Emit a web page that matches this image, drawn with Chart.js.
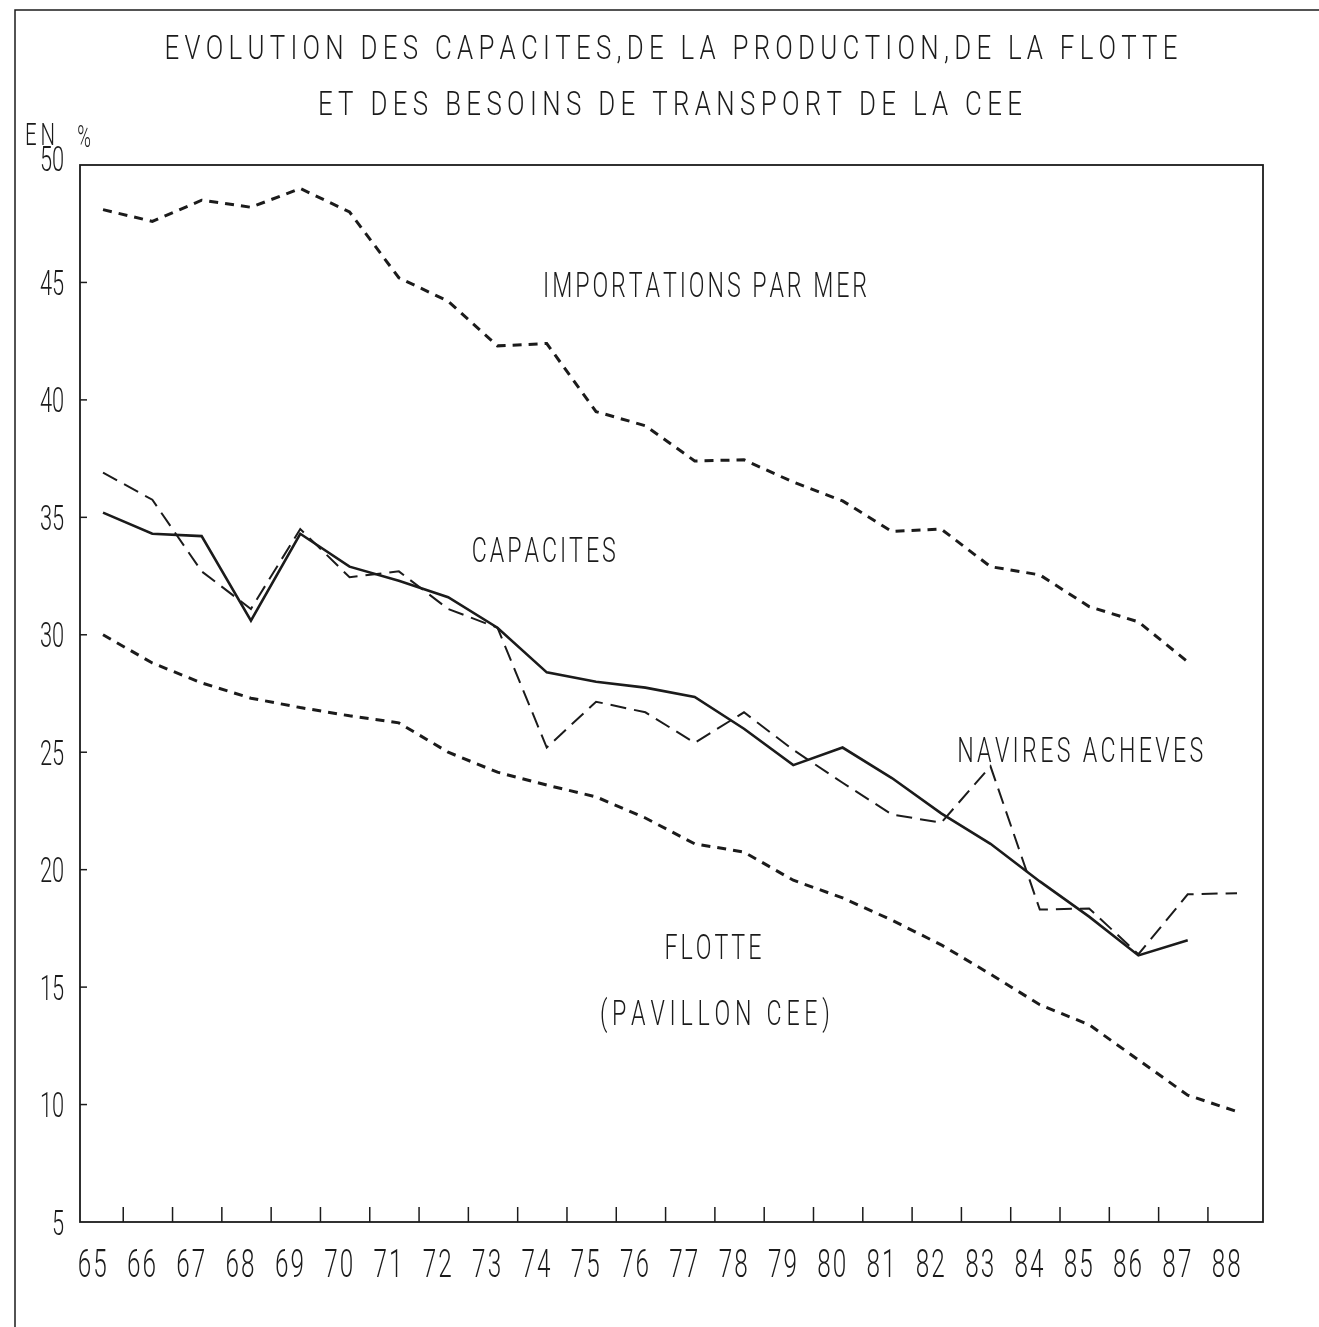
<!DOCTYPE html>
<html>
<head>
<meta charset="utf-8">
<script src="https://cdn.jsdelivr.net/npm/chart.js@4"></script>
<style>
  html, body { margin: 0; padding: 0; background: #fff; }
  canvas { display: block; }
</style>
</head>
<body>
<canvas id="chart" width="1319" height="1327"></canvas>
<script>
/* data, years 1965-1988, values in % */
const years        = [65,66,67,68,69,70,71,72,73,74,75,76,77,78,79,80,81,82,83,84,85,86,87,88];
const importations = [48.1,47.6,48.5,48.2,49.0,48.0,45.2,44.2,42.3,42.4,39.5,38.9,37.4,37.45,36.5,35.7,34.4,34.5,32.9,32.55,31.2,30.55,28.85,null];
const capacites    = [35.2,34.3,34.2,30.6,34.3,32.9,32.3,31.6,30.3,28.4,28.0,27.75,27.35,26.0,24.45,25.2,23.9,22.4,21.1,19.5,18.0,16.35,17.0,null];
const navires      = [36.9,35.75,32.7,31.1,34.5,32.45,32.7,31.1,30.3,25.2,27.15,26.7,25.4,26.7,25.1,23.7,22.35,22.0,24.4,18.3,18.35,16.4,18.95,19.0];
const flotte       = [30.0,28.8,27.95,27.3,26.9,26.55,26.25,25.0,24.15,23.6,23.1,22.2,21.1,20.75,19.55,18.8,17.85,16.8,15.55,14.25,13.4,11.9,10.4,9.7];

const yTicks = [5,10,15,20,25,30,35,40,45,50];

const titleLines = [
  'EVOLUTION DES CAPACITES,DE LA PRODUCTION,DE LA FLOTTE',
  'ET DES BESOINS DE TRANSPORT DE LA CEE'
];

// curve labels, anchored in data units (year, value)
const curveLabels = [
  { text: 'IMPORTATIONS PAR MER', x: 77.21, y: 44.9,  w: 324 },
  { text: 'CAPACITES',            x: 73.94, y: 33.65, w: 144 },
  { text: 'NAVIRES ACHEVES',      x: 84.82, y: 25.1,  w: 246 },
  { text: 'FLOTTE',               x: 77.37, y: 16.75, w: 97 },
  { text: '(PAVILLON CEE)',       x: 77.41, y: 13.94, w: 230 }
];

const INK = '#1b1b1b';
const FONT = 'Roboto, "DejaVu Sans", sans-serif';

const toXY = arr => years.map((yr, i) => ({ x: yr, y: arr[i] }));

// condensed "plotter" lettering: narrow glyphs, spread to a given width
function plotText(ctx, str, cx, cy, capH, width, sx) {
  sx = sx || 0.8;
  const size = capH / 0.711;
  ctx.font = `300 ${size}px ${FONT}`;
  const chars = [...str];
  const ws = chars.map(c => ctx.measureText(c).width * sx);
  const sum = ws.reduce((a, b) => a + b, 0);
  const gap = width ? (width - sum) / Math.max(chars.length - 1, 1) : size * 0.06;
  const total = sum + gap * (chars.length - 1);
  let x = cx - total / 2;
  const base = cy + capH / 2;
  ctx.fillStyle = INK;
  ctx.textAlign = 'left';
  ctx.textBaseline = 'alphabetic';
  chars.forEach((c, i) => {
    ctx.save();
    ctx.translate(x, base);
    ctx.scale(sx, 1);
    ctx.fillText(c, 0, 0);
    ctx.restore();
    x += ws[i] + gap;
  });
  return total;
}

const plotterDecor = {
  id: 'plotterDecor',
  afterDraw(chart) {
    const { ctx, chartArea: a, scales: { x, y } } = chart;
    ctx.save();
    ctx.strokeStyle = INK;

    // page frame
    ctx.lineWidth = 1.5;
    ctx.beginPath();
    ctx.moveTo(15, 1327); ctx.lineTo(15, 10); ctx.lineTo(1319, 10);
    ctx.stroke();

    // plot frame
    ctx.lineWidth = 1.8;
    ctx.strokeRect(a.left, a.top, a.right - a.left, a.bottom - a.top);

    // inward ticks, y
    ctx.lineWidth = 1.5;
    yTicks.forEach(v => {
      const py = y.getPixelForValue(v);
      if (v > 5 && v < 50) {
        ctx.beginPath(); ctx.moveTo(a.left, py); ctx.lineTo(a.left + 7, py); ctx.stroke();
      }
      const s = String(v);
      const w = s.length * 12;
      plotText(ctx, s, 64 - w / 2, v === 50 ? py - 7 : py, 25, w, 0.62);
    });

    // inward ticks, x (sit between the yearly points)
    years.slice(0, -1).forEach(yr => {
      const px = x.getPixelForValue(yr + 0.41);
      ctx.beginPath(); ctx.moveTo(px, a.bottom); ctx.lineTo(px, a.bottom - 15); ctx.stroke();
    });
    years.forEach(yr => {
      plotText(ctx, String(yr), x.getPixelForValue(yr - 0.22), 1263, 27, 29, 0.64);
    });

    // titles
    plotText(ctx, titleLines[0], 671, 47, 23, 1013);
    plotText(ctx, titleLines[1], 670, 103, 23, 704);
    plotText(ctx, 'EN', 40, 134, 22, 30, 0.66);
    plotText(ctx, '%', 84, 136, 22, 14, 0.6);

    curveLabels.forEach(l => {
      plotText(ctx, l.text, x.getPixelForValue(l.x), y.getPixelForValue(l.y), 25, l.w, 0.66);
    });
    ctx.restore();
  }
};

const lineDefaults = {
  borderColor: INK,
  pointRadius: 0,
  tension: 0,
  fill: false,
  spanGaps: false
};

new Chart(document.getElementById('chart'), {
  type: 'line',
  data: {
    datasets: [
      { ...lineDefaults, label: 'Importations par mer', data: toXY(importations), borderWidth: 3,   borderDash: [9, 7] },
      { ...lineDefaults, label: 'Capacités',            data: toXY(capacites),    borderWidth: 2.6 },
      { ...lineDefaults, label: 'Navires achevés',      data: toXY(navires),      borderWidth: 2,   borderDash: [16, 8] },
      { ...lineDefaults, label: 'Flotte (pavillon CEE)', data: toXY(flotte),      borderWidth: 3,   borderDash: [9, 7] }
    ]
  },
  options: {
    responsive: false,
    animation: false,
    layout: { padding: { top: 165, left: 0, right: 56, bottom: 25 } },
    plugins: {
      legend: { display: false },
      title: { display: false },
      tooltip: { enabled: false }
    },
    scales: {
      x: {
        type: 'linear',
        min: 64.533,
        max: 88.527,
        grid: { display: false },
        border: { display: false },
        ticks: { display: false },
        afterFit: s => { s.height = 80; }
      },
      y: {
        min: 5,
        max: 50,
        grid: { display: false },
        border: { display: false },
        ticks: { display: false },
        afterFit: s => { s.width = 80; }
      }
    }
  },
  plugins: [plotterDecor]
});
</script>
</body>
</html>
